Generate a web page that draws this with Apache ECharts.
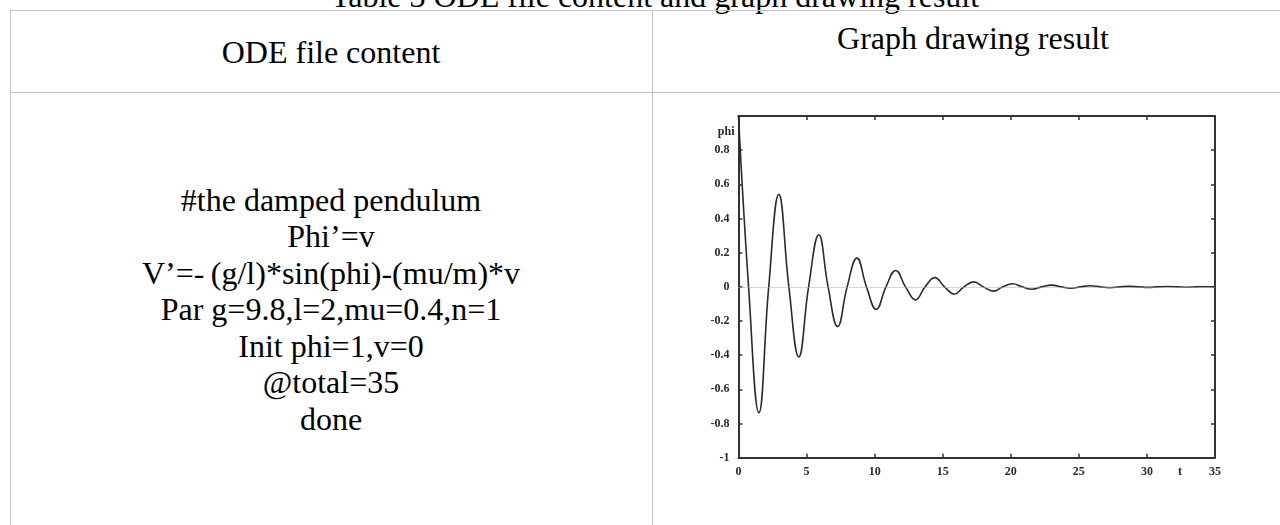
<!DOCTYPE html>
<html>
<head>
<meta charset="utf-8">
<script src="https://cdn.jsdelivr.net/npm/echarts@6/dist/echarts.min.js"></script>
<style>
  html, body { margin: 0; padding: 0; background: #fff; }
  body { width: 1280px; height: 525px; overflow: hidden; position: relative; font-family: "Liberation Serif", "Times New Roman", serif; color: #000; }
  .t { position: absolute; font-size: 32px; line-height: 32px; white-space: nowrap; text-align: center; }
  .hl { position: absolute; height: 1px; background: #c3c3c3; }
  .vl { position: absolute; width: 1px; background: #c3c3c3; }
  #code { position: absolute; left: 10px; width: 642px; top: 181.6px; text-align: center; font-size: 32px; line-height: 36.5px; white-space: nowrap; }
  #chart { position: absolute; left: 0; top: 0; width: 1280px; height: 525px; }
</style>
</head>
<body>
<div class="t" style="left:0;width:1310px;top:-20.3px;">Table 3 ODE file content and graph drawing result</div>
<div class="hl" style="left:10px;width:1270px;top:10px;"></div>
<div class="hl" style="left:10px;width:1270px;top:92px;"></div>
<div class="vl" style="left:10px;top:10px;height:515px;"></div>
<div class="vl" style="left:652px;top:10px;height:515px;"></div>
<div class="t" style="left:10px;width:642px;top:35.5px;">ODE file content</div>
<div class="t" style="left:653px;width:640px;top:21.5px;">Graph drawing result</div>
<div id="code">#the damped pendulum<br>Phi’=v<br>V’=-&thinsp;(g/l)*sin(phi)-(mu/m)*v<br>Par g=9.8,l=2,mu=0.4,n=1<br>Init phi=1,v=0<br>@total=35<br>done</div>
<div id="chart"></div>
<script>
// time (t) and angle (phi): extrema and zero crossings
const tValues   = [0, 0.74, 1.50, 2.22, 2.96, 3.70, 4.43, 5.15, 5.90, 6.58, 7.28, 7.98, 8.70, 9.40, 10.12, 10.83, 11.55, 12.27, 13.00, 13.70, 14.42, 15.13, 15.86, 16.56, 17.28, 17.99, 18.72, 19.41, 20.12, 20.84, 21.56, 22.27, 23.00, 23.70, 24.42, 25.13, 25.85, 26.56, 27.28, 28.0, 28.7, 29.4, 30.1, 30.8, 31.55, 32.3, 33.0, 33.7, 34.4, 35.0];
const phiValues = [1.0, 0, -0.736, 0, 0.541, 0, -0.41, 0, 0.305, 0, -0.232, 0, 0.168, 0, -0.132, 0, 0.096, 0, -0.076, 0, 0.054, 0, -0.042, 0, 0.029, 0, -0.025, 0, 0.018, 0, -0.014, 0, 0.010, 0, -0.008, 0, 0.006, 0, -0.005, 0, 0.003, 0, -0.003, 0, 0.002, 0, -0.002, 0, 0.001, 0];
const xTicks = [0, 5, 10, 15, 20, 25, 30, 35];
const yTicks = [-1, -0.8, -0.6, -0.4, -0.2, 0, 0.2, 0.4, 0.6, 0.8, 1];
const xName = 't';
const yName = 'phi';

const chart = echarts.init(document.getElementById('chart'), null, { renderer: 'canvas' });
const axisColor = '#333';
const labelStyle = { fontFamily: 'Liberation Serif', fontWeight: 'bold', fontSize: 12, color: '#2a2a2a' };
const data = tValues.map((t, i) => [t, phiValues[i]]);

chart.setOption({
  animation: false,
  backgroundColor: 'transparent',
  grid: { left: 738.5, top: 116, width: 476.5, height: 341.7, containLabel: false },
  xAxis: [
    {
      type: 'value', min: xTicks[0], max: xTicks[xTicks.length - 1], interval: 5, position: 'bottom',
      name: xName, nameLocation: 'end', nameGap: -35,
      nameTextStyle: Object.assign({}, labelStyle, { align: 'center', verticalAlign: 'top', padding: [8, 0, 0, 0] }),
      axisLine: { show: true, onZero: false, lineStyle: { color: axisColor, width: 2 } },
      axisTick: { show: true, inside: true, length: 4, lineStyle: { color: axisColor, width: 1.5 } },
      axisLabel: Object.assign({ margin: 8 }, labelStyle),
      splitLine: { show: false }
    },
    {
      type: 'value', min: xTicks[0], max: xTicks[xTicks.length - 1], interval: 5, position: 'top',
      axisLine: { show: true, onZero: false, lineStyle: { color: axisColor, width: 2 } },
      axisTick: { show: true, inside: true, length: 4, lineStyle: { color: axisColor, width: 1.5 } },
      axisLabel: { show: false }, splitLine: { show: false }
    }
  ],
  yAxis: [
    {
      type: 'value', min: yTicks[0], max: yTicks[yTicks.length - 1], interval: 0.2, position: 'left',
      name: yName, nameLocation: 'end', nameGap: -16,
      nameTextStyle: Object.assign({}, labelStyle, { align: 'right', verticalAlign: 'middle', padding: [0, 4, 0, 0] }),
      axisLine: { show: true, onZero: false, lineStyle: { color: axisColor, width: 2 } },
      axisTick: { show: true, inside: true, length: 4, lineStyle: { color: axisColor, width: 1.5 } },
      axisLabel: Object.assign({ margin: 9, formatter: v => (Math.abs(v - 1) < 1e-9 ? '' : String(Math.round(v * 10) / 10)) }, labelStyle),
      splitLine: { show: false }
    },
    {
      type: 'value', min: yTicks[0], max: yTicks[yTicks.length - 1], interval: 0.2, position: 'right',
      axisLine: { show: true, onZero: false, lineStyle: { color: axisColor, width: 2 } },
      axisTick: { show: true, inside: true, length: 4, lineStyle: { color: axisColor, width: 1.5 } },
      axisLabel: { show: false }, splitLine: { show: false }
    }
  ],
  series: [
    {
      type: 'line', xAxisIndex: 0, yAxisIndex: 0, data: data,
      smooth: 0.45, showSymbol: false, symbol: 'none',
      lineStyle: { color: '#2b2b2b', width: 1.6 },
      markLine: {
        silent: true, symbol: 'none', label: { show: false },
        lineStyle: { color: '#aaa', type: 'dotted', width: 1 },
        data: [{ yAxis: 0 }]
      },
      z: 3
    }
  ]
});
</script>
</body>
</html>
